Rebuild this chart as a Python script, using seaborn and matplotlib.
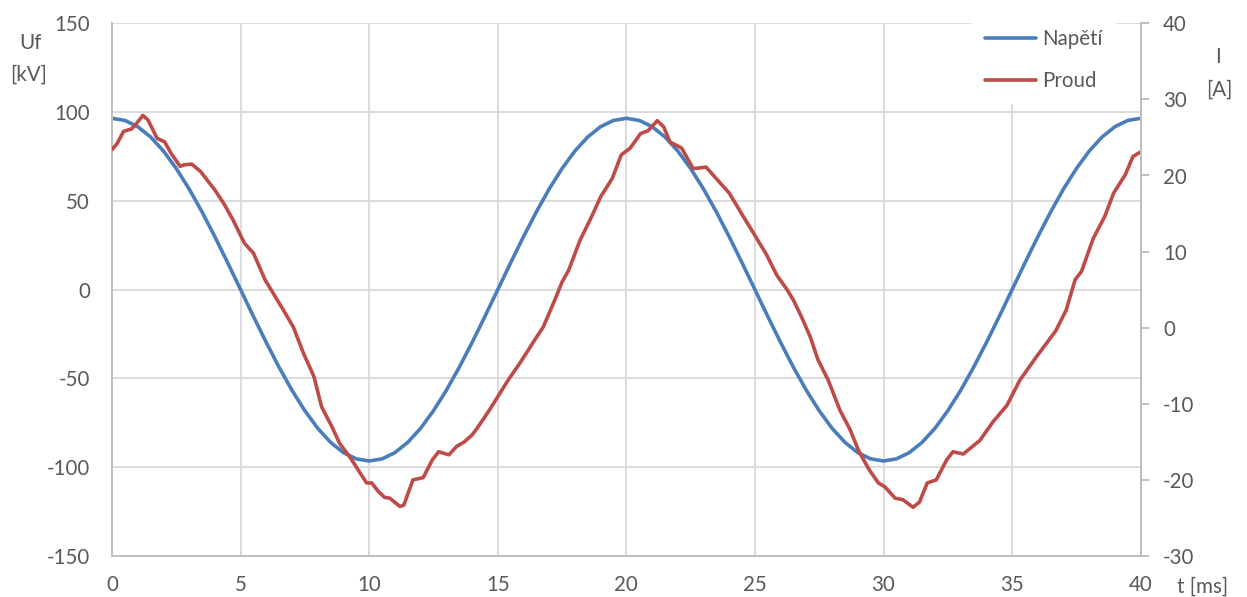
import matplotlib
matplotlib.use("Agg")
import matplotlib.pyplot as plt
import seaborn as sns
import pandas as pd

# ---------------- data ----------------
t_napeti = [i * 0.5 for i in range(81)]
napeti = [
    96.5, 95.3, 91.8, 86.0, 78.1, 68.2, 56.7, 43.8, 29.8, 15.1, 0.0,
    -15.1, -29.8, -43.8, -56.7, -68.2, -78.1, -86.0, -91.8, -95.3, -96.5,
    -95.3, -91.8, -86.0, -78.1, -68.2, -56.7, -43.8, -29.8, -15.1, 0.0,
    15.1, 29.8, 43.8, 56.7, 68.2, 78.1, 86.0, 91.8, 95.3, 96.5,
    95.3, 91.8, 86.0, 78.1, 68.2, 56.7, 43.8, 29.8, 15.1, 0.0,
    -15.1, -29.8, -43.8, -56.7, -68.2, -78.1, -86.0, -91.8, -95.3, -96.5,
    -95.3, -91.8, -86.0, -78.1, -68.2, -56.7, -43.8, -29.8, -15.1, 0.0,
    15.1, 29.8, 43.8, 56.7, 68.2, 78.1, 86.0, 91.8, 95.3, 96.5,
]

t_proud = [
    0.0, 0.2, 0.45, 0.75, 0.9, 1.2, 1.4, 1.75, 2.05, 2.3, 2.65, 2.8, 3.1, 3.45,
    3.7, 4.0, 4.35, 4.7, 5.15, 5.5, 5.95, 6.65, 7.05, 7.45, 7.85, 8.15, 8.55,
    8.85, 9.25, 9.65, 9.9, 10.1, 10.35, 10.6, 10.8, 11.2, 11.35, 11.7, 12.1,
    12.45, 12.7, 13.1, 13.4, 13.7, 14.0, 14.2, 14.7, 15.4, 15.85, 16.1, 16.4,
    16.77, 17.2, 17.5, 17.75, 18.2, 18.65, 19.0, 19.45, 19.8, 20.15, 20.55,
    20.85, 21.2, 21.45, 21.7, 22.15, 22.6, 23.1, 23.6, 24.0, 24.55, 24.95,
    25.45, 25.85, 26.25, 26.5, 26.8, 27.15, 27.45, 27.85, 28.3, 28.7, 29.05,
    29.45, 29.8, 30.05, 30.45, 30.75, 31.15, 31.4, 31.7, 32.05, 32.45, 32.7,
    33.1, 33.75, 34.25, 34.8, 35.3, 35.95, 36.7, 37.1, 37.45, 37.7, 38.15,
    38.6, 38.95, 39.4, 39.7, 40.0,
]
proud = [
    23.4, 24.2, 25.8, 26.1, 26.6, 27.9, 27.3, 24.9, 24.4, 22.9, 21.2, 21.4, 21.5, 20.5,
    19.4, 18.1, 16.3, 14.2, 11.1, 9.8, 6.3, 2.4, 0.1, -3.4, -6.4, -10.4, -13.0,
    -15.2, -17.0, -19.1, -20.4, -20.4, -21.5, -22.3, -22.4, -23.5, -23.3, -20.0, -19.7,
    -17.4, -16.3, -16.7, -15.6, -15.0, -14.1, -13.2, -10.7, -6.9, -4.7, -3.4, -1.8,
    0.1, 3.5, 6.0, 7.5, 11.5, 14.6, 17.2, 19.6, 22.7, 23.6, 25.5,
    25.9, 27.2, 26.4, 24.4, 23.6, 20.9, 21.1, 19.2, 17.7, 14.6, 12.4,
    9.6, 6.9, 5.0, 3.6, 1.5, -1.2, -4.2, -6.9, -10.8, -13.4, -16.3,
    -18.7, -20.4, -20.9, -22.4, -22.6, -23.6, -22.9, -20.4, -20.0, -17.4, -16.3,
    -16.6, -14.8, -12.4, -10.2, -6.9, -3.8, -0.4, 2.3, 6.3, 7.4, 11.7,
    14.6, 17.7, 20.1, 22.5, 23.1,
]

x_ticks = [0, 5, 10, 15, 20, 25, 30, 35, 40]
left_ticks = [-150, -100, -50, 0, 50, 100, 150]
right_ticks = [-30, -20, -10, 0, 10, 20, 30, 40]
series_names = ["Napětí", "Proud"]

# ---------------- style ----------------
sns.set_theme(style="white")
plt.rcParams["font.family"] = ["Lato", "DejaVu Sans"]
plt.rcParams["axes.unicode_minus"] = False

BLUE = "#4A7EBB"
RED = "#BE4B48"
GRID = "#D9D9D9"
SPINE = "#BFBFBF"
TXT = "#595959"
FS = 14.8

W, H = 1247, 597
fig = plt.figure(figsize=(W / 100, H / 100), dpi=100)
ax = fig.add_axes([112 / W, 1 - 556 / H, (1140.7 - 112) / W, (556 - 23.3) / H])
ax2 = ax.twinx()

df_u = pd.DataFrame({"t": t_napeti, "u": napeti})
df_i = pd.DataFrame({"t": t_proud, "i": proud})

sns.lineplot(data=df_u, x="t", y="u", ax=ax, color=BLUE, lw=2.6,
             estimator=None, legend=False)
sns.lineplot(data=df_i, x="t", y="i", ax=ax2, color=RED, lw=2.6,
             estimator=None, legend=False)

ax.set_xlim(0, 40)
ax.set_ylim(-150, 150)
ax2.set_ylim(-30, 40)
ax.set_xticks(x_ticks)
ax.set_yticks(left_ticks)
ax2.set_yticks(right_ticks)
ax.set_xlabel("")
ax.set_ylabel("")
ax2.set_ylabel("")

ax.grid(True, color=GRID, lw=1.3)
ax2.grid(False)
ax.set_axisbelow(True)

for a in (ax, ax2):
    for s in a.spines.values():
        s.set_visible(False)
ax.spines["left"].set_visible(True)
ax.spines["bottom"].set_visible(True)
ax2.spines["right"].set_visible(True)
for s in (ax.spines["left"], ax.spines["bottom"], ax2.spines["right"]):
    s.set_color(SPINE)
    s.set_linewidth(1.4)

ax.tick_params(axis="y", length=0, pad=16, labelsize=FS, labelcolor=TXT)
ax.tick_params(axis="x", length=0, pad=14, labelsize=FS, labelcolor=TXT)
ax2.tick_params(axis="y", right=True, length=6, width=1.4, color=SPINE,
                direction="out", pad=10, labelsize=FS, labelcolor=TXT)

# axis titles
def ftext(x, y, s):
    fig.text(x / W, 1 - y / H, s, ha="center", va="center", fontsize=FS, color=TXT)

ftext(30, 43, "Uf")
ftext(29, 75, "[kV]")
ftext(1218, 57, "I")
ftext(1219, 90, "[A]")
ftext(1203, 587, "t [ms]")

# legend
h1 = ax.get_lines()[0]
h2 = ax2.get_lines()[0]
leg = ax2.legend([h1, h2], series_names, loc="center",
                 bbox_to_anchor=(1043.5 / W, 1 - 60 / H),
                 bbox_transform=fig.transFigure,
                 fontsize=FS, frameon=True, fancybox=False,
                 handlelength=2.5, handletextpad=0.3, labelspacing=1.05,
                 borderpad=0.65, borderaxespad=0)
leg.get_frame().set_facecolor("white")
leg.get_frame().set_edgecolor("none")
leg.get_frame().set_alpha(1)
for t in leg.get_texts():
    t.set_color(TXT)

fig.savefig("out.png", dpi=100)
